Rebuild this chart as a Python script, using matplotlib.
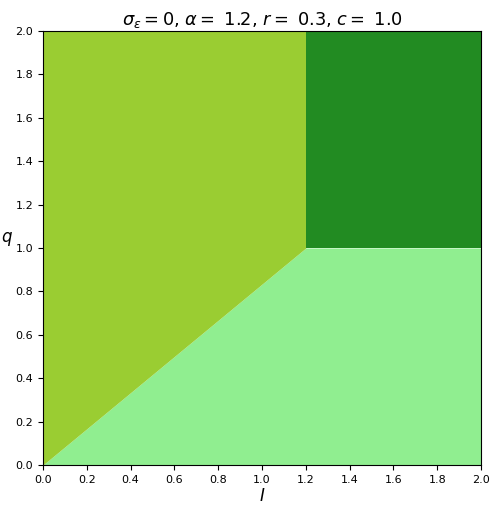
import matplotlib
matplotlib.use("Agg")
import matplotlib.pyplot as plt
import numpy as np

# parameters shown in the title
sigma_eps = 0
alpha = 1.2
r = 0.3
c = 1.0

# lower boundary of the upper regions (kink at I = alpha, q = c)
boundary_I = [0.0, 1.2, 2.0]
boundary_q = [0.0, 1.0, 1.0]
I_max = 2.0
q_max = 2.0

fig = plt.figure(figsize=(4.98, 5.13), dpi=100)
ax = fig.add_axes([0.0863, 0.0936, 0.8796, 0.846])

bi = np.array(boundary_I)
bq = np.array(boundary_q)

# below the boundary
ax.fill_between(bi, 0, bq, color="lightgreen", linewidth=0)
# above the line, left of the kink
left = bi <= alpha
ax.fill_between(bi[left], bq[left], q_max, color="yellowgreen", linewidth=0)
# above q = c, right of the kink
right = bi >= alpha
ax.fill_between(bi[right], bq[right], q_max, color="forestgreen", linewidth=0)

ax.set_xlim(0, I_max)
ax.set_ylim(0, q_max)
ax.set_xticks(np.arange(0, 2.01, 0.2))
ax.set_yticks(np.arange(0, 2.01, 0.2))
ax.tick_params(labelsize=8)
ax.set_xlabel(r"$I$", fontsize=12, labelpad=2)
ax.set_ylabel(r"$q$", fontsize=12, rotation=0, labelpad=6)
ax.set_title(rf"$\sigma_\epsilon = {sigma_eps}$, $\alpha =$ {alpha}, $r =$ {r}, $c =$ {c}",
             fontsize=12.8, pad=4)

fig.savefig("out.png", dpi=100)
